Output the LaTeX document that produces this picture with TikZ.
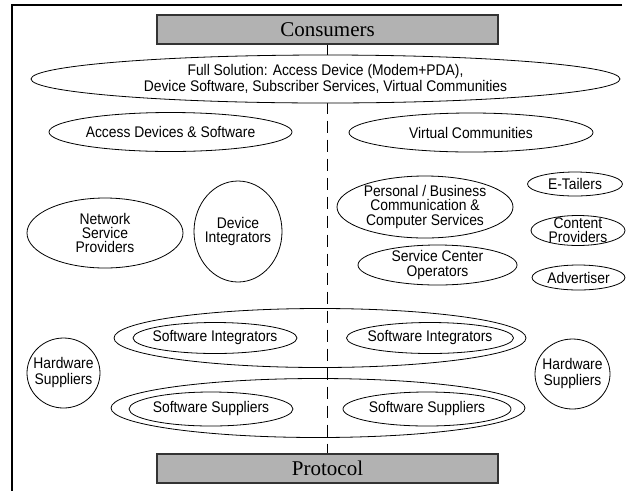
\documentclass[tikz,border=0pt]{standalone}
\usepackage{fontspec}
\setmainfont{Liberation Serif}
\newfontfamily\helv{Liberation Sans}[FakeStretch=0.9]
\usetikzlibrary{shapes.geometric}

\tikzset{
  oval/.style={draw=black, line width=0.8pt, ellipse, inner sep=0pt, fill=white},
  ring/.style={draw=black, line width=0.8pt, ellipse, inner sep=0pt},
  lbl/.style={font=\helv\fontsize{15.4}{#1}\selectfont, align=center, inner sep=0pt},
  lbl/.default=14,
  bar/.style={draw=black!80, line width=1.2pt, fill=black!30, inner sep=0pt,
              minimum width=341pt, minimum height=29pt, font=\fontsize{21}{24}\selectfont},
  frame/.style={line width=1.3pt},
  split/.style={line width=0.8pt, dash pattern=on 12pt off 7pt},
}

\begin{document}
\begin{tikzpicture}[x=1pt,y=-1pt]
\useasboundingbox (0,0) rectangle (631,491);

% outer frame (top and left edges)
\coordinate (fr-r) at (622,5);
\coordinate (fr-tl) at (12,5);
\coordinate (fr-b) at (12,491);
\draw[frame] (fr-r) -- (fr-tl) -- (fr-b);

% top and bottom bars
\node[bar] (cons) at (327.5,29.5) {Consumers};
\node[bar] (prot) at (327.5,468.5) {Protocol};

% dividing line between the two halves
\draw[split] (cons.south) -- (prot.north);

% full solution
\node[oval, minimum width=589pt, minimum height=48pt] (full) at (325.5,79) {};
\node[lbl=13.5] (full-t) at (full) {Full Solution: Access Device (Modem+PDA),\\Device Software, Subscriber Services, Virtual Communities};

% second row
\node[oval, minimum width=243pt, minimum height=39pt] (acc) at (170.5,132) {};
\node[lbl] (acc-t) at (acc) {Access Devices \& Software};
\node[oval, minimum width=244pt, minimum height=39pt] (vc) at (471,132.5) {};
\node[lbl] (vc-t) at (vc) {Virtual Communities};

% left half, middle
\node[oval, minimum width=156pt, minimum height=70pt] (nsp) at (105,233) {};
\node[lbl=14.2] (nsp-t) at (nsp) {Network\\Service\\Providers};
\node[oval, minimum width=88pt, minimum height=101pt] (di) at (238,231.5) {};
\node[lbl=14] (di-t) at (di) {Device\\Integrators};

% right half, middle
\node[oval, minimum width=176pt, minimum height=62pt] (pbc) at (425,207) {};
\node[lbl=14.2] (pbc-t) at (pbc) {Personal / Business\\Communication \&\\Computer Services};
\node[oval, minimum width=159pt, minimum height=40pt] (sco) at (437.5,265) {};
\node[lbl=14.2] (sco-t) at (sco) {Service Center\\Operators};
\node[oval, minimum width=95pt, minimum height=24pt] (et) at (575,184) {};
\node[lbl] (et-t) at (et) {E-Tailers};
\node[oval, minimum width=94pt, minimum height=30pt] (cp) at (578,230.5) {};
\node[lbl=14.2] (cp-t) at (cp) {Content\\Providers};
\node[oval, minimum width=93pt, minimum height=25pt] (adv) at (578.5,277.5) {};
\node[lbl] (adv-t) at (adv) {Advertiser};

% software layers spanning both halves
\node[ring, minimum width=412pt, minimum height=59pt] (sio) at (320,338) {};
\node[oval, minimum width=164pt, minimum height=31pt] (sil) at (215,338) {};
\node[lbl] (sil-t) at (sil) {Software Integrators};
\node[oval, minimum width=167pt, minimum height=31pt] (sir) at (430,338) {};
\node[lbl] (sir-t) at (sir) {Software Integrators};

\node[ring, minimum width=414pt, minimum height=59pt] (sso) at (318,408) {};
\node[oval, minimum width=164pt, minimum height=34pt] (ssl) at (211,409) {};
\node[lbl] (ssl-t) at (ssl) {Software Suppliers};
\node[oval, minimum width=168pt, minimum height=34pt] (ssr) at (427,409) {};
\node[lbl] (ssr-t) at (ssr) {Software Suppliers};

% hardware suppliers on both sides
\node[oval, minimum width=73pt, minimum height=70pt] (hsl) at (63.5,373) {};
\node[lbl=16] (hsl-t) at (hsl) {Hardware\\Suppliers};
\node[oval, minimum width=75pt, minimum height=70pt] (hsr) at (572.5,374) {};
\node[lbl=16] (hsr-t) at (hsr) {Hardware\\Suppliers};
\end{tikzpicture}
\end{document}
